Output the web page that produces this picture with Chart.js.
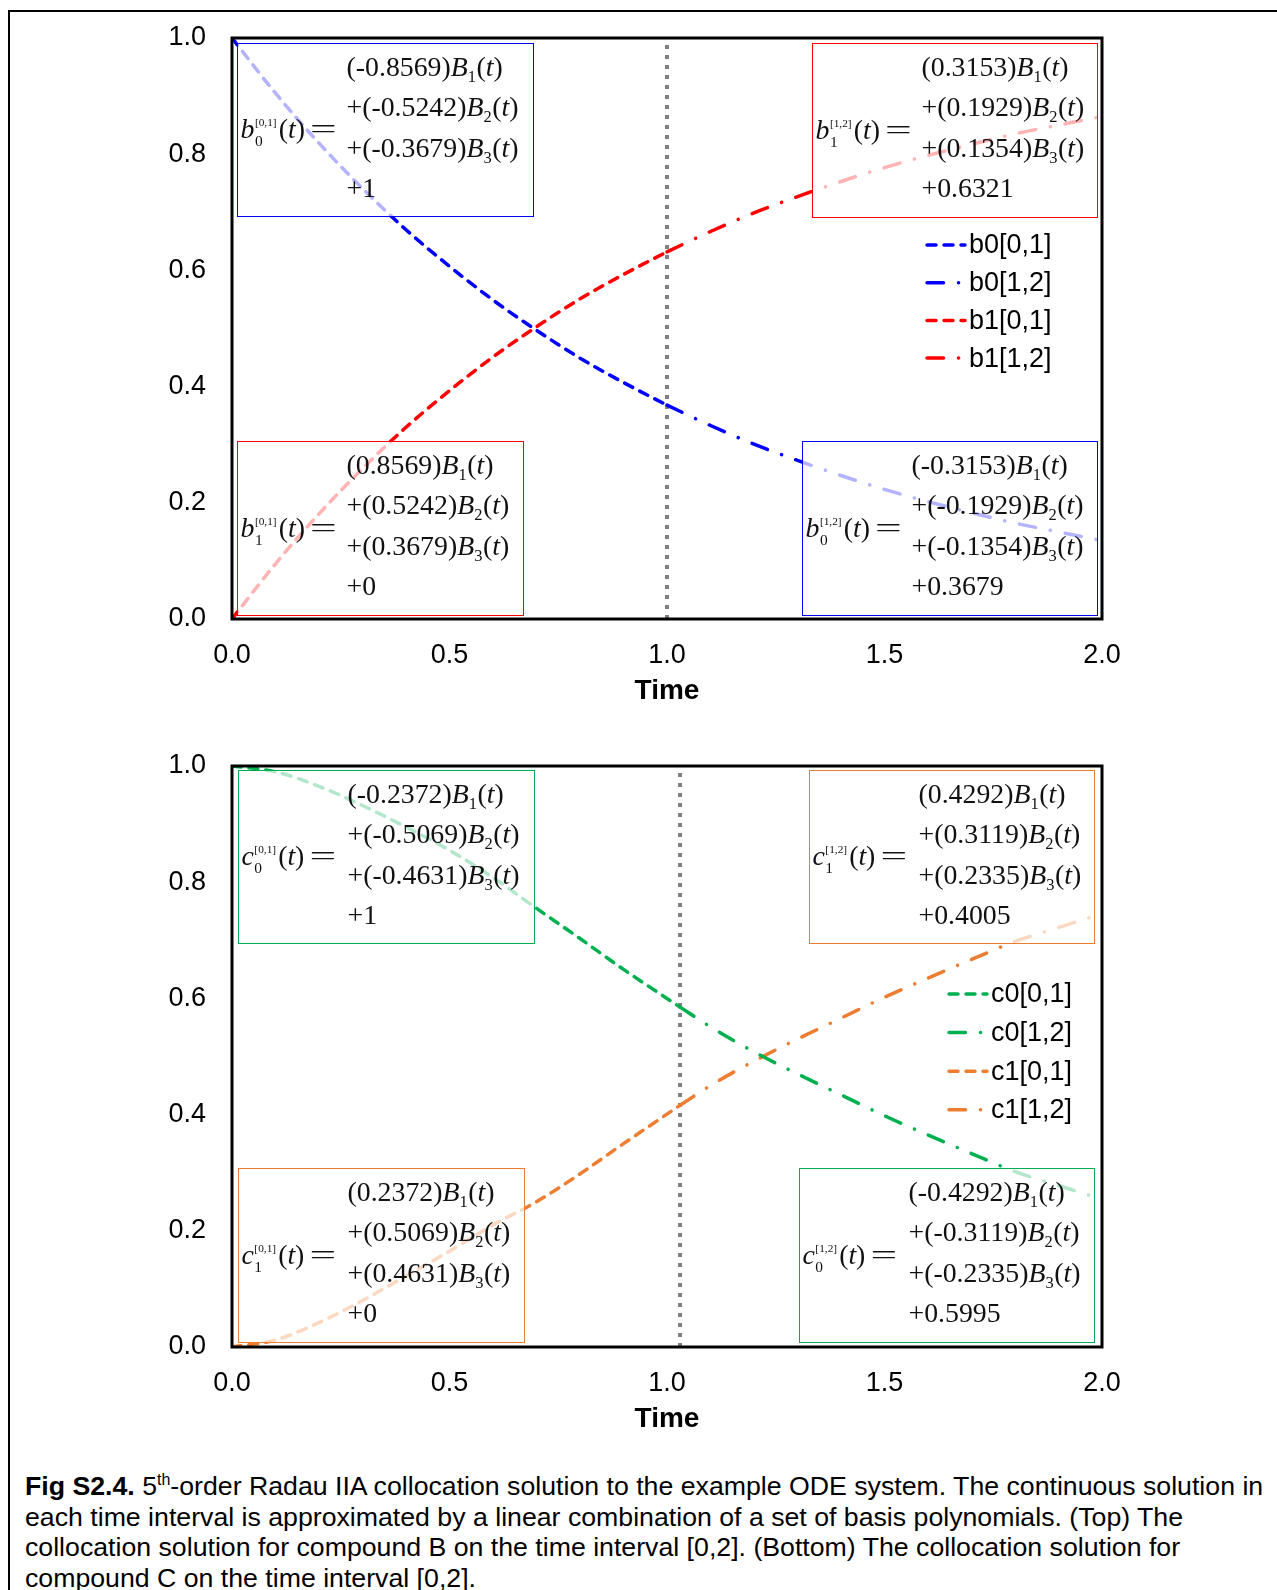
<!DOCTYPE html>
<html>
<head>
<meta charset="utf-8">
<script src="https://cdn.jsdelivr.net/npm/chart.js@4.4.1/dist/chart.umd.min.js"></script>
<style>
html, body { margin: 0; padding: 0; background: #fff; }
body { width: 1277px; height: 1590px; position: relative; overflow: hidden; font-family: "Liberation Sans", Arial, sans-serif; }
#frame { position: absolute; left: 8px; top: 10px; width: 1400px; height: 1700px; border-left: 2px solid #000; border-top: 2px solid #000; }
canvas { position: absolute; left: 0; }
#chartB { top: 0; }
#chartC { top: 728px; }
#caption { position: absolute; left: 25px; top: 1471px; font-size: 26.7px; line-height: 30.6px; white-space: nowrap; color: #000; }
#caption sup { font-size: 16px; line-height: 0; }
</style>
</head>
<body>
<div id="frame"></div>
<canvas id="chartB" width="1277" height="730"></canvas>
<canvas id="chartC" width="1277" height="730"></canvas>
<div id="caption"><b>Fig S2.4.</b> 5<sup>th</sup>-order Radau IIA collocation solution to the example ODE system. The continuous solution in<br>each time interval is approximated by a linear combination of a set of basis polynomials. (Top) The<br>collocation solution for compound B on the time interval [0,2]. (Bottom) The collocation solution for<br>compound C on the time interval [0,2].</div>
<script>
// ---- data ----
const tFirst = [0.0, 0.1, 0.2, 0.3, 0.4, 0.5, 0.6, 0.7, 0.8, 0.9, 1.0];
const tSecond = [1.0, 1.1, 1.2, 1.3, 1.4, 1.5, 1.6, 1.7, 1.8, 1.9, 2.0];
const b0First = [1.000, 0.905, 0.819, 0.741, 0.670, 0.607, 0.549, 0.497, 0.449, 0.407, 0.368];
const b0Second = [0.368, 0.333, 0.301, 0.273, 0.247, 0.223, 0.202, 0.183, 0.165, 0.150, 0.135];
const b1First = [0.000, 0.095, 0.181, 0.259, 0.330, 0.393, 0.451, 0.503, 0.551, 0.593, 0.632];
const b1Second = [0.632, 0.667, 0.699, 0.727, 0.753, 0.777, 0.798, 0.817, 0.835, 0.850, 0.865];

const tFirstC = [0.0, 0.1, 0.2, 0.3, 0.4, 0.5, 0.6, 0.7, 0.8, 0.9, 1.03];
const tSecondC = [1.03, 1.1, 1.2, 1.3, 1.4, 1.5, 1.6, 1.7, 1.8, 1.9, 2.0];
const c0First = [1.000, 0.990, 0.965, 0.932, 0.895, 0.855, 0.808, 0.755, 0.703, 0.650, 0.585];
const c0Second = [0.585, 0.551, 0.508, 0.470, 0.434, 0.398, 0.365, 0.333, 0.302, 0.278, 0.254];
const c1First = [0.000, 0.012, 0.042, 0.080, 0.122, 0.165, 0.210, 0.250, 0.298, 0.350, 0.416];
const c1Second = [0.416, 0.450, 0.492, 0.530, 0.566, 0.602, 0.635, 0.667, 0.698, 0.722, 0.746];

const splitB = [1.0, 1.0];
const splitC = [1.03, 1.03];
const splitY = [0, 1];

const xTicks = [0, 0.5, 1.0, 1.5, 2.0];
const yTicks = [0, 0.2, 0.4, 0.6, 0.8, 1.0];

// ---- styles ----
const SANS = '"Liberation Sans", Arial, sans-serif';
const SERIF = '"Liberation Serif", "Times New Roman", serif';
const DASH = [9, 8];
const DASH_DOT = [16.5, 15, 0.1, 15];
const LW = 3.5;

function pts(xs, ys) {
    return xs.map((x, i) => ({ x: x, y: ys[i] }));
}

function series(label, xs, ys, color, dash) {
    return {
        label: label,
        data: pts(xs, ys),
        borderColor: color,
        borderWidth: LW,
        borderDash: dash,
        borderCapStyle: 'round',
        borderJoinStyle: 'round',
        pointRadius: 0,
        fill: false,
        cubicInterpolationMode: 'monotone'
    };
}

function splitLine(xs) {
    return {
        label: 'split',
        data: pts(xs, splitY),
        borderColor: '#808080',
        borderWidth: 4,
        borderDash: [4, 6],
        borderCapStyle: 'butt',
        pointRadius: 0,
        fill: false
    };
}

// draw a run of text pieces, stretched a little like the original equation images
function drawRuns(ctx, x, y, parts, stretch) {
    let cx = 0;
    ctx.save();
    ctx.translate(x, y);
    ctx.scale(stretch, 1);
    for (const p of parts) {
        ctx.font = (p.it ? 'italic ' : '') + p.size + 'px ' + SERIF;
        ctx.fillText(p.text, cx, p.dy || 0);
        cx += ctx.measureText(p.text).width + (p.gap || 0);
    }
    ctx.restore();
}

function drawEquation(ctx, box, x0, y0, x1, y1) {
    const S = 27, stretch = 1.03;
    ctx.fillStyle = '#111';
    ctx.textBaseline = 'alphabetic';
    ctx.textAlign = 'left';

    // left hand side: name with stacked sub/superscript
    const lx = x0 + 3, ly = (y0 + y1) / 2 + 8;
    ctx.save();
    ctx.translate(lx, ly);
    ctx.scale(stretch, 1);
    ctx.font = 'italic ' + S + 'px ' + SERIF;
    ctx.fillText(box.name, 0, 0);
    let cx = ctx.measureText(box.name).width + 0.5;
    ctx.font = '11px ' + SERIF;
    ctx.fillText(box.sup, cx, -12);
    const wSup = ctx.measureText(box.sup).width;
    ctx.font = '15px ' + SERIF;
    ctx.fillText(box.sub, cx, 8);
    cx += Math.max(wSup, ctx.measureText(box.sub).width) + 2;
    ctx.font = S + 'px ' + SERIF;
    ctx.fillText('(', cx, 0); cx += ctx.measureText('(').width;
    ctx.font = 'italic ' + S + 'px ' + SERIF;
    ctx.fillText('t', cx, 0); cx += ctx.measureText('t').width;
    ctx.font = S + 'px ' + SERIF;
    ctx.fillText(')', cx, 0); cx += ctx.measureText(')').width + 5;
    ctx.translate(cx, 0);
    ctx.scale(1.7, 1);
    ctx.fillText('=', 0, 0);
    ctx.restore();

    // right hand side: four lines
    const rx = x0 + 109;
    box.coefs.forEach((c, i) => {
        const parts = [
            { text: (i > 0 ? '+' : '') + '(' + c + ')', size: S },
            { text: 'B', it: true, size: S },
            { text: String(i + 1), size: 16, dy: 6, gap: 0.5 },
            { text: '(', size: S },
            { text: 't', it: true, size: S },
            { text: ')', size: S }
        ];
        drawRuns(ctx, rx, y0 + 32 + 40.5 * i, parts, stretch);
    });
    drawRuns(ctx, rx, y0 + 32 + 40.5 * 3, [{ text: '+' + box.constant, size: S }], stretch);
}

function overlayPlugin(boxes, legend) {
    return {
        id: 'overlay',
        afterDatasetsDraw(chart) {
            const ctx = chart.ctx;
            const ca = chart.chartArea;
            const xs = chart.scales.x, ys = chart.scales.y;
            ctx.save();
            // plot area frame
            ctx.strokeStyle = '#000';
            ctx.lineWidth = 3;
            ctx.setLineDash([]);
            ctx.strokeRect(ca.left, ca.top, ca.right - ca.left, ca.bottom - ca.top);

            // equation boxes
            boxes.forEach(b => {
                const x0 = Math.round(xs.getPixelForValue(b.t[0])) + 0.5;
                const x1 = Math.round(xs.getPixelForValue(b.t[1])) + 0.5;
                const y0 = Math.round(ys.getPixelForValue(b.v[0])) + 0.5;
                const y1 = Math.round(ys.getPixelForValue(b.v[1])) + 0.5;
                ctx.fillStyle = 'rgba(255,255,255,0.7)';
                ctx.fillRect(x0, y0, x1 - x0, y1 - y0);
                ctx.strokeStyle = b.color;
                ctx.lineWidth = 1;
                ctx.strokeRect(x0, y0, x1 - x0, y1 - y0);
                drawEquation(ctx, b, x0, y0, x1, y1);
            });

            // legend
            legend.items.forEach((idx, i) => {
                const ds = chart.data.datasets[idx];
                const y = legend.y + legend.step * i;
                ctx.strokeStyle = ds.borderColor;
                ctx.lineWidth = ds.borderWidth;
                ctx.lineCap = 'round';
                ctx.setLineDash(ds.borderDash);
                ctx.beginPath();
                ctx.moveTo(legend.x, y);
                ctx.lineTo(legend.x + 38, y);
                ctx.stroke();
                ctx.setLineDash([]);
                ctx.fillStyle = '#000';
                ctx.font = '27px ' + SANS;
                ctx.textBaseline = 'middle';
                ctx.textAlign = 'left';
                ctx.fillText(ds.label, legend.x + 42, y + 1);
            });
            ctx.restore();
        }
    };
}

function makeChart(id, datasets, boxes, legend) {
    return new Chart(document.getElementById(id).getContext('2d'), {
        type: 'line',
        data: { datasets: datasets },
        options: {
            responsive: false,
            animation: false,
            devicePixelRatio: 1,
            layout: { padding: { top: 38, right: 175, left: 0, bottom: 0 } },
            plugins: { legend: { display: false }, tooltip: { enabled: false } },
            scales: {
                x: {
                    type: 'linear',
                    min: 0,
                    max: 2,
                    afterBuildTicks: (scale) => { scale.ticks = xTicks.map(v => ({ value: v })); },
                    afterFit: (scale) => { scale.height = 111; scale.paddingLeft = 0; scale.paddingRight = 0; },
                    grid: { display: false, drawTicks: false },
                    border: { display: false },
                    ticks: {
                        color: '#000',
                        padding: 20,
                        maxRotation: 0,
                        font: { family: SANS, size: 27 },
                        callback: (v) => Number(v).toFixed(1)
                    },
                    title: {
                        display: true,
                        text: 'Time',
                        color: '#000',
                        font: { family: SANS, size: 28, weight: 'bold' },
                        padding: { top: 0, bottom: 22 }
                    }
                },
                y: {
                    min: 0,
                    max: 1,
                    afterBuildTicks: (scale) => { scale.ticks = yTicks.map(v => ({ value: v })); },
                    afterFit: (scale) => { scale.width = 232; scale.paddingTop = 0; scale.paddingBottom = 0; },
                    grid: { display: false, drawTicks: false },
                    border: { display: false },
                    ticks: {
                        color: '#000',
                        padding: 26,
                        font: { family: SANS, size: 27 },
                        callback: (v) => Number(v).toFixed(1)
                    }
                }
            }
        },
        plugins: [overlayPlugin(boxes, legend)]
    });
}

const BLUE = '#0000FF', RED = '#FF0000', GREEN = '#00B050', ORANGE = '#ED7D31';

makeChart('chartB', [
    series('b0[0,1]', tFirst, b0First, BLUE, DASH),
    series('b0[1,2]', tSecond, b0Second, BLUE, DASH_DOT),
    series('b1[0,1]', tFirst, b1First, RED, DASH),
    series('b1[1,2]', tSecond, b1Second, RED, DASH_DOT),
    splitLine(splitB)
], [
    { color: BLUE, t: [0.0115, 0.692], v: [0.991, 0.694], name: 'b', sub: '0', sup: '[0,1]', coefs: ['-0.8569', '-0.5242', '-0.3679'], constant: '1' },
    { color: RED, t: [1.333, 1.989], v: [0.991, 0.692], name: 'b', sub: '1', sup: '[1,2]', coefs: ['0.3153', '0.1929', '0.1354'], constant: '0.6321' },
    { color: RED, t: [0.0115, 0.669], v: [0.306, 0.007], name: 'b', sub: '1', sup: '[0,1]', coefs: ['0.8569', '0.5242', '0.3679'], constant: '0' },
    { color: BLUE, t: [1.310, 1.989], v: [0.306, 0.007], name: 'b', sub: '0', sup: '[1,2]', coefs: ['-0.3153', '-0.1929', '-0.1354'], constant: '0.3679' }
], { x: 927, y: 245, step: 37.7, items: [0, 1, 2, 3] });

makeChart('chartC', [
    series('c0[0,1]', tFirstC, c0First, GREEN, DASH),
    series('c0[1,2]', tSecondC, c0Second, GREEN, DASH_DOT),
    series('c1[0,1]', tFirstC, c1First, ORANGE, DASH),
    series('c1[1,2]', tSecondC, c1Second, ORANGE, DASH_DOT),
    splitLine(splitC)
], [
    { color: GREEN, t: [0.0138, 0.694], v: [0.993, 0.695], name: 'c', sub: '0', sup: '[0,1]', coefs: ['-0.2372', '-0.5069', '-0.4631'], constant: '1' },
    { color: ORANGE, t: [1.326, 1.982], v: [0.993, 0.695], name: 'c', sub: '1', sup: '[1,2]', coefs: ['0.4292', '0.3119', '0.2335'], constant: '0.4005' },
    { color: ORANGE, t: [0.0138, 0.671], v: [0.308, 0.009], name: 'c', sub: '1', sup: '[0,1]', coefs: ['0.2372', '0.5069', '0.4631'], constant: '0' },
    { color: GREEN, t: [1.303, 1.982], v: [0.308, 0.009], name: 'c', sub: '0', sup: '[1,2]', coefs: ['-0.4292', '-0.3119', '-0.2335'], constant: '0.5995' }
], { x: 949, y: 266, step: 38.6, items: [0, 1, 2, 3] });
</script>
</body>
</html>
